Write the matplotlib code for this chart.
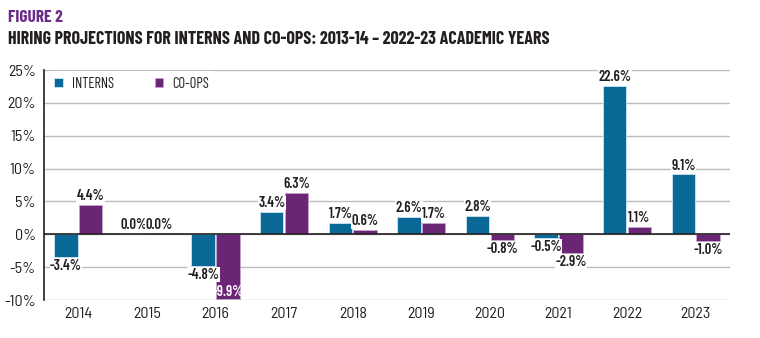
import numpy as np
import matplotlib.pyplot as plt
from matplotlib import font_manager

# hiring projections by academic year
years = ['2014', '2015', '2016', '2017', '2018', '2019', '2020', '2021', '2022', '2023']
interns = [-3.4, 0.0, -4.8, 3.4, 1.7, 2.6, 2.8, -0.5, 22.6, 9.1]
coops = [4.4, 0.0, -9.9, 6.3, 0.6, 1.7, -0.8, -2.9, 1.1, -1.0]

blue = '#0a6897'
purple = '#6a2574'
dark = '#231f20'

names = {f.name for f in font_manager.fontManager.ttflist}


def pick(cands):
    for c in cands:
        if c in names:
            return c
    return 'DejaVu Sans'


fam = pick(['Barlow Condensed', 'Roboto Condensed', 'IBM Plex Sans Condensed'])
fam_tick = pick(['Barlow Semi Condensed', 'Barlow Condensed', 'Roboto Condensed'])
plt.rcParams['font.family'] = [fam, 'DejaVu Sans']

fig = plt.figure(figsize=(7.6, 3.38), dpi=100)
ax = fig.add_axes([44 / 760, 38 / 338, 686 / 760, 230 / 338])

x = np.arange(len(years))
w = 0.34
off = 0.18
b1 = ax.bar(x - off, interns, w, color=blue, edgecolor='#cfe6f0', linewidth=0.6, zorder=3, label='INTERNS')
b2 = ax.bar(x + off, coops, w, color=purple, edgecolor='#c9a9cf', linewidth=0.5, zorder=3, label='CO-OPS')

ax.set_xlim(-0.5, len(years) - 0.5)
ax.set_ylim(-10, 25)
ax.set_yticks(range(-10, 26, 5))
ax.set_yticklabels([f'{v}%' for v in range(-10, 26, 5)], fontsize=11.5, color=dark, family=fam_tick)
ax.set_xticks(x)
ax.set_xticklabels(years, fontsize=11.5, color=dark, family=fam_tick)
ax.tick_params(axis='y', length=0, pad=6)
ax.tick_params(axis='x', length=0, pad=5)
ax.grid(axis='y', color='#bdbdbd', linewidth=1, zorder=0)
ax.axhline(0, color=dark, linewidth=1.2, zorder=4)
for s in ['top', 'right', 'bottom']:
    ax.spines[s].set_visible(False)
ax.spines['left'].set_color(dark)
ax.spines['left'].set_linewidth(1.2)

# value labels above positive bars, below negative ones
for bars, vals in ((b1, interns), (b2, coops)):
    for r, v in zip(bars, vals):
        cx = r.get_x() + r.get_width() / 2
        if v == -9.9:
            ax.text(cx, v + 0.05, f'{v:.1f}%', ha='center', va='bottom', fontsize=10.5,
                    fontweight='semibold', color='white', zorder=6)
        elif v >= 0:
            ax.text(cx, v + 0.3, f'{v:.1f}%', ha='center', va='bottom', fontsize=10.5,
                    fontweight='semibold', color=dark, zorder=6,
                    bbox=dict(facecolor='white', edgecolor='none', pad=0.3))
        else:
            ax.text(cx, v - 0.3, f'{v:.1f}%', ha='center', va='top', fontsize=10.5,
                    fontweight='semibold', color=dark, zorder=6,
                    bbox=dict(facecolor='white', edgecolor='none', pad=0.3))

leg = ax.legend(loc='upper left', bbox_to_anchor=(0.0, 1.015), ncol=2, frameon=True,
                facecolor='white', edgecolor='none', framealpha=1,
                handlelength=0.6, handleheight=0.6, columnspacing=2.8,
                handletextpad=0.6, prop={'size': 10.5, 'family': fam}, borderaxespad=0.3)
for t in leg.get_texts():
    t.set_color(dark)
leg.set_zorder(7)

fig.text(8 / 760, 1 - 17 / 338, 'FIGURE 2', fontsize=12.5, fontweight='bold', color='#6b2c87', va='center')
fig.text(8 / 760, 1 - 39 / 338, 'HIRING PROJECTIONS FOR INTERNS AND CO-OPS: 2013-14 \u2013 2022-23 ACADEMIC YEARS',
         fontsize=13, fontweight='bold', color=dark, va='center')

fig.savefig('out.png', dpi=100)
